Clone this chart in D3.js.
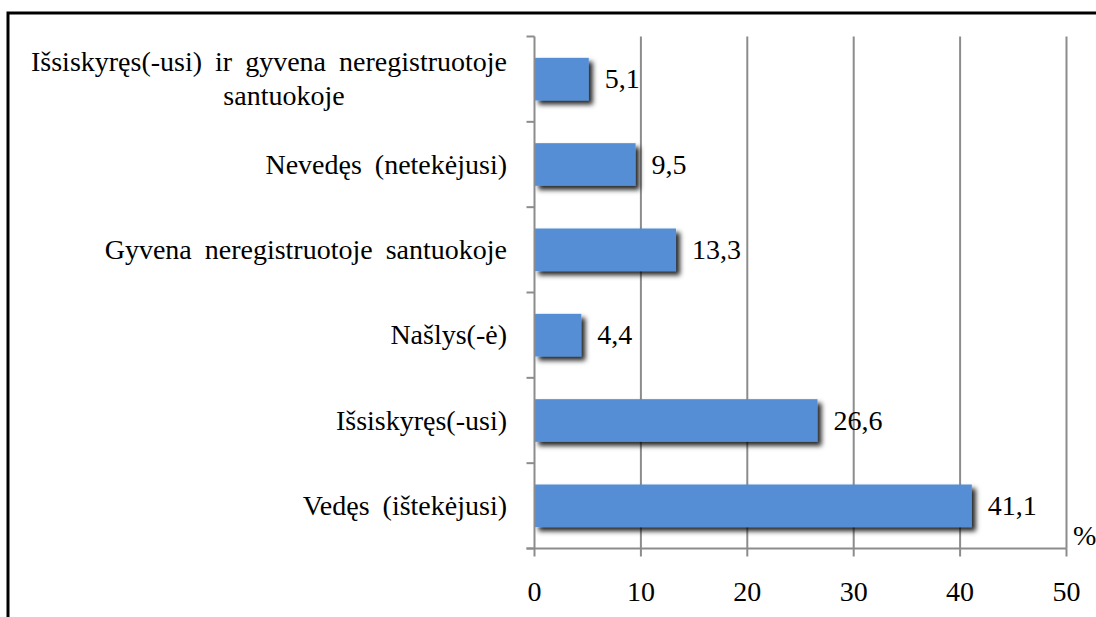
<!DOCTYPE html>
<html><head><meta charset="utf-8">
<script src="https://cdn.jsdelivr.net/npm/d3@7"></script>
</head><body style="margin:0">
<svg id="c" width="1096" height="617" font-family="Liberation Serif" font-size="28"></svg>
<script>
const categories = ["Išsiskyręs(-usi) ir gyvena neregistruotoje santuokoje","Nevedęs (netekėjusi)","Gyvena neregistruotoje santuokoje","Našlys(-ė)","Išsiskyręs(-usi)","Vedęs (ištekėjusi)"];
const categoryLines = [["Išsiskyręs(-usi) ir gyvena neregistruotoje","santuokoje"],["Nevedęs (netekėjusi)"],["Gyvena neregistruotoje santuokoje"],["Našlys(-ė)"],["Išsiskyręs(-usi)"],["Vedęs (ištekėjusi)"]];
const values = [5.1, 9.5, 13.3, 4.4, 26.6, 41.1];
const valueLabels = ["5,1","9,5","13,3","4,4","26,6","41,1"];
const xTicks = [0,10,20,30,40,50];

const svg = d3.select("#c");

svg.append("path").attr("d","M8,617 V13 H1096").attr("fill","none").attr("stroke","#000").attr("stroke-width",3);

const defs = svg.append("defs");
const f = defs.append("filter").attr("id","sh").attr("x","-10%").attr("y","-30%").attr("width","130%").attr("height","180%");
f.append("feDropShadow").attr("dx",4).attr("dy",4).attr("stdDeviation",2.5).attr("flood-color","#000").attr("flood-opacity",0.85);

const x = d3.scaleLinear().domain([0,50]).range([534.5,1066.5]);
const y = d3.scaleBand().domain(categories).range([36.5,548.5]).paddingInner(0.5).paddingOuter(0.25);

svg.append("g").selectAll("line").data(xTicks.slice(1)).join("line")
  .attr("x1",d=>x(d)).attr("x2",d=>x(d)).attr("y1",36.5).attr("y2",548.5)
  .attr("stroke","#8c8c8c").attr("stroke-width",2);

svg.append("g").selectAll("rect").data(values).join("rect")
  .attr("x",x(0)).attr("y",(d,i)=>y(categories[i])).attr("width",d=>x(d)-x(0)).attr("height",y.bandwidth())
  .attr("fill","#558ED5").attr("filter","url(#sh)");

const yg = svg.append("g").attr("transform",`translate(${x(0)},0)`);
yg.append("line").attr("x1",0).attr("x2",0).attr("y1",36.5).attr("y2",548.5).attr("stroke","#8c8c8c").attr("stroke-width",2);
const bounds = d3.range(7).map(i=>36.5+i*(512/6));
yg.selectAll("line.t").data(bounds).join("line").attr("class","t")
  .attr("x1",-8).attr("x2",0).attr("y1",d=>d).attr("y2",d=>d).attr("stroke","#8c8c8c").attr("stroke-width",2);

const xg = svg.append("g").attr("transform","translate(0,548.5)");
xg.append("line").attr("x1",x(0)-8).attr("x2",x(50)).attr("stroke","#8c8c8c").attr("stroke-width",2);
xg.selectAll("line.t").data(xTicks).join("line").attr("class","t")
  .attr("x1",d=>x(d)).attr("x2",d=>x(d)).attr("y1",0).attr("y2",8).attr("stroke","#8c8c8c").attr("stroke-width",2);
xg.selectAll("text").data(xTicks).join("text")
  .attr("x",d=>x(d)).attr("y",52).attr("text-anchor","middle").text(d=>d);

const cl = svg.append("g");
categoryLines.forEach((lines,i)=>{
  const cy = y(categories[i]) + y.bandwidth()/2;
  const lh = 34;
  const t = cl.append("text").attr("word-spacing",6);
  lines.forEach((ln,j)=>{
    t.append("tspan").attr("x", lines.length>1 && j===1 ? 284 : 507)
      .attr("text-anchor", lines.length>1 && j===1 ? "middle" : "end")
      .attr("y", cy + (j-(lines.length-1)/2)*lh + 9).text(ln);
  });
});

svg.append("g").selectAll("text").data(values).join("text")
  .attr("x",d=>x(d)+16).attr("y",(d,i)=>y(categories[i])+y.bandwidth()/2+9)
  .text((d,i)=>valueLabels[i]);

svg.append("text").attr("x",1073).attr("y",545).text("%");
</script>
</body></html>
